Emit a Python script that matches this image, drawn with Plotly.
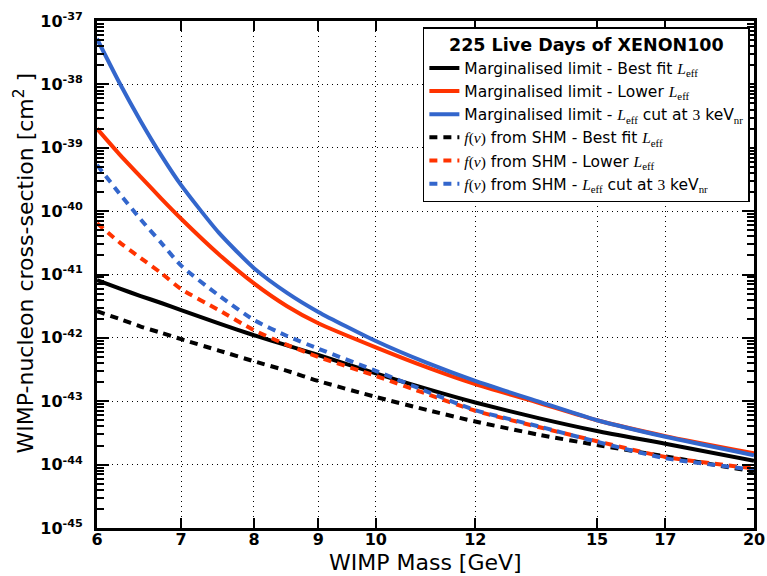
import plotly.graph_objects as go

# WIMP mass [GeV]
mass = [6, 6.25, 6.5, 6.75, 7, 7.5, 8, 8.5, 9, 10, 11, 12, 13.5, 15, 17, 20]

# cross-section limits [cm^2]
marg_best = [8.13e-42, 6.03e-42, 4.57e-42, 3.55e-42, 2.75e-42, 1.70e-42, 1.10e-42, 7.59e-43,
             5.37e-43, 2.75e-43, 1.55e-43, 9.55e-44, 5.37e-44, 3.39e-44, 2.14e-44, 1.15e-44]
marg_lower = [2.00e-39, 7.94e-40, 3.47e-40, 1.58e-40, 7.59e-41, 2.09e-41, 7.24e-42, 3.16e-42,
              1.70e-42, 7.08e-43, 3.39e-43, 1.86e-43, 9.33e-44, 5.01e-44, 2.82e-44, 1.51e-44]
marg_cut = [5.25e-38, 1.07e-38, 2.63e-39, 7.59e-40, 2.57e-40, 4.57e-41, 1.26e-41, 5.13e-42,
            2.57e-42, 8.91e-43, 3.98e-43, 2.09e-43, 9.77e-44, 5.01e-44, 2.75e-44, 1.41e-44]
shm_best = [2.63e-42, 2.00e-42, 1.51e-42, 1.20e-42, 9.55e-43, 6.31e-43, 4.27e-43, 3.02e-43,
            2.09e-43, 1.17e-43, 7.24e-44, 4.79e-44, 2.95e-44, 2.04e-44, 1.35e-44, 7.76e-45]
shm_lower = [6.46e-41, 3.24e-41, 1.82e-41, 1.05e-41, 5.89e-42, 2.75e-42, 1.32e-42, 7.76e-43,
             5.01e-43, 2.51e-43, 1.29e-43, 7.08e-44, 3.89e-44, 2.34e-44, 1.32e-44, 8.71e-45]
shm_cut = [5.37e-40, 1.91e-40, 7.41e-41, 3.16e-41, 1.38e-41, 4.68e-42, 1.91e-42, 1.07e-42,
           6.76e-43, 3.02e-43, 1.41e-43, 7.24e-44, 3.98e-44, 2.29e-44, 1.26e-44, 8.32e-45]

x_ticks = [6, 7, 8, 9, 10, 12, 15, 17, 20]
y_exponents = [-45, -44, -43, -42, -41, -40, -39, -38, -37]

BLACK = "#000000"
RED = "#ff3300"
BLUE = "#3366cc"

SERIF = "Liberation Serif"
LEFF = f'<span style="font-family:{SERIF}"><i>L</i><sub>eff</sub></span>'
FV = f'<span style="font-family:{SERIF}"><i>f</i>(<i>v</i>)</span>'
KEVNR = f'<span style="font-family:{SERIF}">3</span> keV<sub><span style="font-family:{SERIF}">nr</span></sub>'

series = [
    (marg_best, BLACK, "solid", f"Marginalised limit - Best fit {LEFF}"),
    (marg_lower, RED, "solid", f"Marginalised limit - Lower {LEFF}"),
    (marg_cut, BLUE, "solid", f"Marginalised limit - {LEFF} cut at {KEVNR}"),
    (shm_best, BLACK, "8px,6px", f"{FV} from SHM - Best fit {LEFF}"),
    (shm_lower, RED, "8px,6px", f"{FV} from SHM - Lower {LEFF}"),
    (shm_cut, BLUE, "8px,6px", f"{FV} from SHM - {LEFF} cut at {KEVNR}"),
]

fig = go.Figure()
for ys, col, dash, name in series:
    fig.add_trace(go.Scatter(
        x=mass, y=ys, mode="lines", name=name,
        line=dict(color=col, width=4, dash=dash, shape="spline", smoothing=0.6),
    ))

minor_y = [k * 10.0 ** d for d in range(-45, -37) for k in range(2, 10)]

fig.update_layout(
    width=767, height=576,
    margin=dict(l=97, r=13, t=21, b=48, autoexpand=False),
    paper_bgcolor="white", plot_bgcolor="white",
    font=dict(family="DejaVu Sans", color="black", size=15),
    showlegend=True,
    legend=dict(
        x=0.496, y=0.988, xanchor="left", yanchor="top",
        bgcolor="white", bordercolor="black", borderwidth=1.5,
        font=dict(family="DejaVu Sans", size=15.5, color="black"),
        title=dict(text="<b>225 Live Days of XENON100</b>", side="top center",
                   font=dict(family="DejaVu Sans", size=17.5, color="black")),
        itemwidth=30, tracegroupgap=0,
    ),
    annotations=[
        dict(text="WIMP Mass [GeV]", xref="paper", yref="paper", x=0.5, y=-0.069,
             xanchor="center", yanchor="middle", showarrow=False,
             font=dict(family="DejaVu Sans", size=22, color="black")),
        dict(text="WIMP-nucleon cross-section [cm<sup>2</sup> ]", xref="paper", yref="paper",
             x=-0.1111, y=0.5217, xanchor="center", yanchor="middle", showarrow=False,
             textangle=-90, font=dict(family="DejaVu Sans", size=22, color="black")),
    ],
)

fig.update_xaxes(
    type="log", range=[0.77815, 1.30103],
    tickvals=x_ticks, ticktext=[f"<b>{v}</b>" for v in x_ticks],
    tickfont=dict(family="DejaVu Sans", size=16, color="black"),
    ticks="inside", ticklen=10, tickwidth=2, tickcolor="black",
    showline=True, linecolor="black", linewidth=3, mirror="ticks",
    showgrid=True, gridcolor="black", gridwidth=1, griddash="1px,4px",
    zeroline=False, automargin=False, ticklabelstandoff=-5,
)

fig.update_yaxes(
    type="log", range=[-45, -37],
    tickvals=[10.0 ** e for e in y_exponents],
    ticktext=[f"<b>10<sup>{e}</sup></b>" for e in y_exponents],
    tickfont=dict(family="DejaVu Sans", size=16, color="black"),
    ticks="inside", ticklen=12, tickwidth=2, tickcolor="black",
    minor=dict(tickvals=minor_y, ticks="inside", ticklen=7, tickwidth=1.5, tickcolor="black", showgrid=False),
    showline=True, linecolor="black", linewidth=3, mirror="ticks",
    showgrid=True, gridcolor="black", gridwidth=1, griddash="1px,4px",
    zeroline=False, automargin=False, ticklabelstandoff=8,
)

fig.write_html("out.html", config={"displayModeBar": False},
               post_script="document.body.style.margin='0';")
